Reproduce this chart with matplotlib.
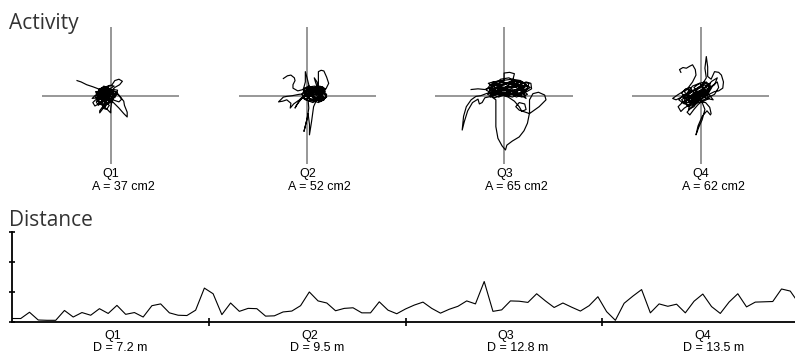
import numpy as np
import matplotlib
matplotlib.use("Agg")
import matplotlib.pyplot as plt

quarters = ["Q1", "Q2", "Q3", "Q4"]
areas = [37, 52, 65, 62]
distances = [7.2, 9.5, 12.8, 13.5]

# distance trace, one value per sample (91 samples over the four quarters)
distance_series = [
    0.10, 0.10, 0.31, 0.05, 0.04, 0.04, 0.37, 0.15, 0.30, 0.21, 0.43, 0.27,
    0.54, 0.24, 0.30, 0.15, 0.53, 0.59, 0.29, 0.21, 0.20, 0.38, 1.12,
    0.93, 0.23, 0.62, 0.34, 0.44, 0.43, 0.18, 0.19, 0.32, 0.35, 0.53, 0.99,
    0.69, 0.62, 0.36, 0.44, 0.46, 0.29, 0.29, 0.66, 0.38, 0.26, 0.42,
    0.55, 0.65, 0.44, 0.28, 0.41, 0.51, 0.69, 0.59, 1.34, 0.34, 0.39, 0.69,
    0.68, 0.64, 0.93, 0.69, 0.47, 0.62, 0.48, 0.35, 0.53, 0.83,
    0.33, 0.04, 0.61, 0.85, 1.07, 0.29, 0.59, 0.51, 0.58, 0.29, 0.68, 0.92,
    0.50, 0.27, 0.65, 0.93, 0.49, 0.65, 0.66, 0.67, 1.09, 1.02, 0.60,
]

# activity traces (x, y): outer excursions, then the dense core
q1_path = [
    (-4.9, 2.2), (-4.3, 2.0), (-3.5, 1.6), (-2.6, 1.3), (-1.8, 1.0), (-1.0, 0.9),
    (-0.4, 1.3), (0.2, 1.6), (0.6, 2.2), (1.2, 2.4), (1.7, 2.1), (1.3, 1.6),
    (0.6, 1.2), (0.0, 0.6), (-0.8, 0.2), (-1.5, -0.4), (-2.2, -0.6), (-2.6, -1.0),
    (-2.3, -1.5), (-1.6, -1.1), (-1.0, -0.5), (-0.3, 0.2), (0.5, 0.6), (1.0, 0.3),
    (1.5, -0.3), (1.9, -0.8), (2.0, -1.4), (2.4, -2.4), (2.4, -3.1), (1.9, -2.6),
    (1.2, -1.8), (0.6, -1.2), (0.0, -0.6), (-0.6, -0.1), (-1.2, 0.5), (-1.8, 0.8),
    (-1.4, 1.1), (-0.6, 0.9), (0.1, 0.4), (0.4, -0.3), (0.1, -1.2), (0.0, -1.9),
    (0.0, -2.5), (-0.5, -2.0), (-1.1, -1.5), (-1.6, -2.2), (-1.6, -2.5), (-1.0, -1.7),
    (-0.6, -0.9), (-1.2, -0.4), (-2.0, -0.3), (-2.7, -0.4), (-2.2, 0.1), (-1.4, 0.3),
    (-0.5, 0.5), (0.4, 0.9), (1.0, 0.8), (0.8, 0.1), (0.2, -0.4), (-0.5, -0.6),
    (-1.1, -0.2), (-0.8, 0.6), (-0.1, 1.0), (0.5, 1.4), (-0.2, 1.5), (-0.9, 1.2),
    (-1.5, 0.6), (-1.0, 0.0), (-0.3, -0.3), (0.6, -0.7), (1.2, -0.9), (1.6, -0.5),
    (1.1, 0.2), (0.3, 0.3), (-0.4, 0.0), (-1.2, -0.9), (-1.8, -1.4), (-2.1, -0.9),
    (-1.5, -0.2), (-0.7, 0.3), (0.0, -0.2), (0.6, -0.3), (0.9, 0.5), (0.2, 0.8),
    (-0.5, 1.1), (-1.3, 0.9), (-2.0, 0.5), (-1.6, -0.1), (-0.8, -0.4), (0.0, 0.1),
]
q1_core = [
    (-1.0, 0.0), (-0.2, 0.8), (-1.2, 1.2), (-2.0, 0.4), (-1.4, -0.6), (-0.4, -1.0),
    (0.2, -0.2), (-0.6, 0.6), (-1.6, 0.8), (-2.2, -0.2), (-1.6, -1.2), (-0.8, -1.6),
    (-0.2, -0.8), (-0.8, -0.2), (-1.8, 0.2), (-1.2, 1.0), (-0.4, 1.2), (0.4, 0.6),
    (0.2, -0.6), (-0.6, -1.2), (-1.4, -1.0), (-2.0, -0.6), (-1.6, 0.4), (-0.8, 0.8),
    (0.0, 0.2), (-0.4, -0.6), (-1.2, -0.4), (-1.8, 0.6), (-1.0, 1.4), (-0.2, 1.0),
    (0.6, 0.2), (0.0, -1.0), (-1.0, -1.4), (-1.8, -0.8), (-1.2, 0.2), (-0.4, 0.4),
    (-1.0, 0.6), (-2.2, 0.6), (-1.8, -0.4), (-0.8, -0.8), (0.2, -0.4), (0.4, 0.4),
    (-0.4, 0.8), (-1.4, 0.4), (-1.0, -0.8), (-0.2, -1.4), (-0.6, -2.0), (-1.2, -1.8),
    (-0.8, -1.0), (-0.2, 0.0), (-1.0, 0.2),
]
q2_path = [
    (-3.5, 2.5), (-2.9, 2.9), (-2.4, 3.0), (-1.9, 2.6), (-1.8, 2.2), (-2.1, 1.6),
    (-2.1, 1.1), (-1.4, 0.7), (-0.6, 0.9), (-0.3, 2.0), (-0.3, 3.5), (0.0, 2.4),
    (0.3, 1.2), (0.9, 0.6), (1.5, 1.1), (1.2, 1.9), (1.0, 2.6), (1.4, 2.0),
    (1.6, 1.2), (1.6, 2.4), (1.6, 3.5), (2.0, 3.7), (2.4, 3.6), (2.8, 2.7),
    (3.1, 1.8), (2.7, 1.0), (2.1, 0.6), (1.3, 0.2), (0.5, 0.1), (-0.3, 0.3),
    (-1.2, 0.2), (-2.2, 0.0), (-3.0, -0.1), (-3.5, -0.2), (-4.2, -0.9), (-3.6, -0.8),
    (-3.0, -0.6), (-2.4, -1.1), (-2.5, -1.8), (-2.0, -1.2), (-1.3, -0.7), (-0.6, -0.3),
    (0.1, -0.6), (0.2, -1.8), (0.0, -3.2), (-0.3, -4.4), (-0.5, -5.2), (-0.2, -4.0),
    (0.1, -2.6), (0.3, -4.2), (0.3, -5.7), (0.6, -3.8), (0.9, -1.6), (1.3, -0.7),
    (2.0, -0.5), (2.6, -0.3), (2.8, -0.1), (2.5, 0.4), (1.8, 0.8), (1.0, 0.9),
    (0.3, 0.6), (-0.4, -0.1), (-1.0, -0.4), (-1.8, -1.8), (-1.6, -1.4), (-0.9, -0.5),
    (-0.2, 0.4), (0.5, 0.9), (1.2, 0.5), (1.9, 0.1), (2.4, -0.6), (1.8, -0.9),
    (1.1, -0.4), (0.4, 0.0), (-0.3, -0.6), (-0.8, 0.2), (-0.3, 1.0), (0.4, 1.3),
    (1.1, 1.4), (1.8, 1.0), (2.3, 0.4), (2.6, 0.9), (2.2, 1.3), (1.4, 0.7),
    (0.6, 0.3), (0.0, -0.2), (0.6, -0.6), (1.4, -0.2), (2.1, 0.2), (1.6, -0.5),
    (0.8, -0.8), (0.1, -0.3), (-0.5, 0.5), (0.2, 0.8), (1.0, 0.2), (1.7, 0.4),
    (2.2, -0.2),
]
q2_core = [
    (1.4, 0.8), (0.4, 1.2), (-0.4, 0.6), (0.2, -0.4), (1.2, -0.6), (2.2, 0.4),
    (2.6, 1.0), (1.8, 1.4), (0.8, 0.8), (0.0, 0.2), (-0.6, -0.4), (0.4, -0.8),
    (1.6, -0.2), (2.4, -0.6), (2.8, 0.2), (2.0, 0.8), (1.0, 1.2), (0.2, 0.6),
    (0.8, -0.2), (1.8, 0.2), (1.2, 1.0), (0.2, 1.4), (-0.6, 1.0), (-0.2, 0.0),
    (0.6, -0.6), (1.6, -1.0), (2.4, -0.2), (1.6, 0.6), (0.6, 0.4), (-0.2, -0.6),
    (0.8, -1.0), (1.8, -0.4), (2.6, 0.6), (2.0, 1.2), (1.0, 0.6), (0.0, 1.0),
    (-0.4, 0.2), (0.6, 0.0), (1.4, 0.4), (2.2, 1.0), (1.4, 1.4), (0.4, 0.8),
    (1.0, -0.4), (2.0, -0.8), (2.8, -0.2), (2.2, 0.6), (1.2, 0.2), (0.2, -0.2),
    (0.6, 0.8), (1.6, 1.0),
]
q3_path = [
    (-4.8, 0.9), (-3.8, 1.0), (-2.8, 0.9), (-1.8, 1.3), (-0.6, 1.8), (0.0, 2.2),
    (0.0, 3.3), (0.8, 3.4), (1.5, 3.2), (1.3, 2.4), (0.6, 1.8), (-0.5, 1.5),
    (-1.6, 2.0), (-2.3, 1.8), (-1.4, 1.2), (-0.2, 0.8), (1.0, 1.0), (2.2, 1.6),
    (3.2, 2.0), (3.9, 1.8), (4.0, 1.0), (3.3, 0.6), (2.0, 0.4), (0.8, 0.2),
    (-0.4, 0.5), (-1.6, 0.6), (-2.6, 0.3), (-3.4, 0.0), (-4.1, -0.1), (-4.8, -0.6),
    (-5.5, -1.6), (-5.9, -3.0), (-6.1, -5.0), (-5.8, -3.8), (-5.3, -2.2), (-4.6, -1.0),
    (-3.8, -0.5), (-3.6, -1.2), (-3.2, -1.0), (-2.8, -0.3), (-1.9, -0.1), (-1.2, -0.6),
    (-1.2, -2.0), (-1.2, -4.5), (-0.9, -6.2), (-0.3, -7.3), (0.2, -7.9), (0.4, -7.2),
    (1.2, -6.6), (2.2, -6.0), (2.9, -5.1), (3.4, -4.0), (3.7, -2.5), (3.7, -0.6),
    (4.2, 0.3), (5.0, 0.5), (5.9, 0.1), (6.1, -0.6), (5.1, -1.6), (3.7, -2.6),
    (2.2, -2.1), (1.7, -1.6), (2.2, -1.0), (3.0, -1.2), (3.2, -2.0), (2.6, -2.3),
    (2.2, -1.6), (1.5, -0.8), (0.6, -0.2), (-0.6, 0.2), (-1.8, 0.4), (-2.6, 0.8),
    (-2.0, 1.6), (-1.0, 2.1), (0.2, 1.9), (1.4, 1.5), (2.6, 1.2), (3.5, 1.4),
    (3.0, 0.4), (1.8, -0.2), (0.5, 0.6), (-0.8, 1.2), (-1.9, 1.0), (-2.4, 0.2),
    (-1.3, -0.3), (0.0, 0.4), (1.2, 0.8), (2.4, 0.1), (3.2, -0.4), (2.5, 0.9),
    (1.4, 2.0), (0.3, 1.3), (-0.9, 0.4), (-2.0, -0.2), (-1.4, 0.9), (-0.3, 1.5),
    (0.9, 1.9), (2.0, 2.2), (2.8, 1.4), (1.6, 0.5), (0.4, 0.0), (-0.8, 0.8),
    (-1.6, 1.5), (-0.5, 2.4), (0.7, 2.6), (1.8, 2.0), (2.9, 0.7),
]
q3_core = [
    (1.6, 1.6), (0.2, 1.0), (-1.2, 1.6), (-2.2, 1.0), (-1.0, 0.2), (0.6, 0.0),
    (2.0, 0.8), (3.4, 1.0), (3.6, 1.8), (2.4, 2.0), (1.0, 1.6), (-0.4, 2.0),
    (-1.8, 1.4), (-2.2, 0.4), (-0.8, -0.2), (0.8, 0.4), (2.2, 0.2), (3.2, 0.6),
    (2.2, 1.4), (0.6, 1.2), (-0.8, 0.8), (-2.0, 0.2), (-1.2, 1.2), (0.2, 1.8),
    (1.6, 2.2), (2.8, 1.8), (3.8, 1.2), (2.6, 0.4), (1.2, -0.2), (-0.2, 0.2),
    (-1.6, 0.8), (-0.6, 1.6), (0.8, 2.0), (2.2, 1.6), (3.0, 1.2), (1.8, 0.6),
    (0.4, 0.8), (-1.0, 1.8), (-2.0, 1.6), (-1.4, 0.6), (0.0, 0.0), (1.4, 0.2),
    (2.6, -0.2), (3.4, 0.2), (2.4, 1.0), (1.0, 0.8), (-0.4, 1.2), (-1.6, 2.0),
    (-0.4, 2.2), (1.2, 2.4), (2.4, 2.2), (3.2, 1.6), (2.0, 1.0), (0.6, 0.4),
    (-0.6, 0.6), (-1.8, 1.0), (-1.0, 0.4), (0.4, 1.4), (1.8, 1.2), (3.0, 0.2),
]
q4_path = [
    (-2.9, 3.4), (-3.1, 3.8), (-2.6, 4.1), (-2.1, 4.0), (-1.6, 4.3), (-1.2, 4.5),
    (-0.8, 3.8), (-0.7, 3.0), (-1.2, 2.0), (-1.8, 1.2), (-2.6, 0.6), (-3.4, 0.1),
    (-4.1, -0.4), (-3.6, -0.6), (-2.8, -0.2), (-1.8, 0.3), (-0.8, 0.9), (0.2, 1.6),
    (0.8, 2.6), (0.6, 4.0), (0.8, 5.7), (1.0, 4.2), (1.0, 2.8), (1.5, 2.4),
    (2.0, 3.5), (2.6, 3.4), (3.0, 3.0), (3.3, 2.0), (3.2, 1.1), (2.6, 0.7),
    (2.0, 0.6), (1.2, 0.2), (0.4, -0.3), (-0.6, -0.8), (-1.6, -1.3), (-2.4, -1.8),
    (-2.9, -2.3), (-3.3, -1.6), (-2.6, -0.9), (-1.6, -0.5), (-0.6, -0.1), (0.3, 0.5),
    (1.2, 1.0), (2.0, 1.6), (2.4, 2.6), (1.6, 2.1), (0.8, 1.3), (-0.2, 0.6),
    (-1.2, 0.0), (-2.2, -0.4), (-2.8, 0.4), (-2.2, 1.0), (-1.2, 0.6), (-0.4, 0.0),
    (0.2, -1.0), (0.6, -2.0), (0.2, -3.5), (-0.3, -4.6), (-0.7, -5.7), (-0.4, -4.4),
    (0.2, -3.0), (0.9, -2.2), (1.4, -2.8), (1.5, -2.6), (1.3, -1.7), (0.7, -1.0),
    (-0.2, -0.9), (-1.2, -1.5), (-2.0, -2.4), (-1.6, -2.8), (-1.0, -2.0), (-0.4, -1.3),
    (0.4, -0.6), (1.2, -0.2), (2.0, 0.2), (2.6, 1.2), (2.4, 2.0), (1.6, 1.4),
    (0.6, 0.4), (-0.4, -0.4), (-1.4, -0.2), (-2.4, 0.2), (-3.2, -0.6), (-2.4, -1.2),
    (-1.4, -0.8), (-0.4, 0.3), (0.6, 1.2), (1.4, 1.8), (0.9, 0.6), (0.0, -0.2),
    (-1.0, -1.0), (-1.8, -0.6), (-1.0, 0.4), (0.0, 0.8), (1.0, 0.4), (1.8, -0.6),
    (0.9, -0.4), (-0.2, 0.2), (-1.0, 1.2), (-0.2, 1.8), (0.6, 2.0), (1.4, 1.0),
]
q4_core = [
    (0.4, 0.2), (-0.8, -0.6), (-2.0, -1.0), (-2.6, -0.2), (-1.6, 0.6), (-0.4, 1.0),
    (0.6, 1.6), (1.2, 0.6), (0.2, -0.4), (-1.0, -1.2), (-1.8, -1.6), (-2.4, -0.8),
    (-1.4, -0.2), (-0.2, 0.4), (0.8, 0.8), (0.0, 1.4), (-1.0, 0.8), (-2.0, 0.0),
    (-2.8, -0.6), (-2.0, -1.4), (-1.0, -0.8), (0.0, -0.2), (1.0, 0.2), (1.6, 1.2),
    (0.8, 2.0), (-0.2, 1.2), (-1.2, 0.2), (-2.2, -0.4), (-1.4, -1.0), (-0.4, -0.6),
    (0.4, 0.6), (-0.6, 0.4), (-1.6, -0.4), (-2.4, 0.6), (-1.6, 1.2), (-0.6, 0.0),
    (0.4, -0.8), (1.2, -0.4), (0.6, 0.6), (-0.4, -0.2), (-1.2, -0.6), (-2.0, 0.4),
    (-1.2, 1.4), (-0.2, 1.8), (0.6, 1.0), (-0.2, -0.4), (-1.0, -1.6), (-1.8, -2.0),
    (-1.2, -0.4), (-0.2, 0.6), (0.8, 1.4),
]
paths = [q1_path + q1_core, q2_path + q2_core, q3_path + q3_core, q4_path + q4_core]

W, H = 795, 356
fig = plt.figure(figsize=(W / 100, H / 100), dpi=100)
fig.patch.set_facecolor("white")


def fx(px):
    return px / W


def fy(py):
    return 1 - py / H


title_kw = dict(family="Open Sans", fontsize=15, color="#333333", va="baseline")
label_kw = dict(family="Liberation Sans", fontsize=9, color="black", va="baseline")

fig.text(fx(9), fy(28.5), "Activity", **title_kw)
fig.text(fx(9), fy(226.5), "Distance", **title_kw)

# activity crosses
step = 196.7
size = 137.4
for i, q in enumerate(quarters):
    cx = 110.7 + i * step
    cy = 95.7
    ax = fig.add_axes([fx(cx - size / 2), fy(cy + size / 2), size / W, size / H])
    ax.set_xlim(-10, 10)
    ax.set_ylim(-10, 10)
    ax.axhline(0, color="#7a7a7a", lw=1.1, zorder=1)
    ax.axvline(0, color="#7a7a7a", lw=1.1, zorder=1)
    xs = [p[0] for p in paths[i]]
    ys = [p[1] for p in paths[i]]
    ax.plot(xs, ys, color="black", lw=0.85, zorder=2)
    ax.axis("off")
    fig.text(fx(cx - 8), fy(177), q, **label_kw)
    fig.text(fx(cx - 19), fy(189.5), f"A = {areas[i]} cm2", **label_kw)

# distance trace
ax = fig.add_axes([fx(12), fy(321.5), 787 / W, 89.5 / H])
x = np.arange(len(distance_series))
ax.plot(x, distance_series, color="black", lw=0.8)
ax.set_xlim(0, len(distance_series) - 1)
ax.set_ylim(0, 3)
for s in ["top", "right"]:
    ax.spines[s].set_visible(False)
for s in ["left", "bottom"]:
    ax.spines[s].set_linewidth(1.3)
ax.set_yticks([0, 1, 2, 3])
ax.set_yticklabels([])
qlen = (len(distance_series) - 1) / 4
ax.set_xticks([qlen * k for k in range(1, 4)])
ax.set_xticklabels([])
ax.tick_params(axis="y", direction="inout", length=5, width=1.2)
ax.tick_params(axis="x", direction="inout", length=6, width=1.2)

for i, q in enumerate(quarters):
    cx = 110.4 + i * step
    fig.text(fx(cx - 6), fy(338.5), q, **label_kw)
    fig.text(fx(cx - 17), fy(351), f"D = {distances[i]} m", **label_kw)

fig.savefig("out.png", dpi=100)
